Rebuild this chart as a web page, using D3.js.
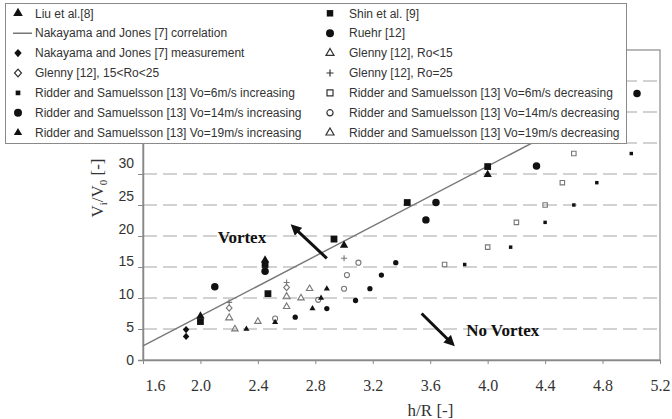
<!DOCTYPE html>
<html>
<head>
<meta charset="utf-8">
<script src="https://cdn.jsdelivr.net/npm/d3@7"></script>
<style>
  body { margin: 0; background: #fff; }
</style>
</head>
<body>
<svg width="672" height="419"></svg>
<script>
// values: h/R on x, Vi/V0 on y

const xTicks = [1.6, 2.0, 2.4, 2.8, 3.2, 3.6, 4.0, 4.4, 4.8, 5.2];
const yTicks = [0, 5, 10, 15, 20, 25, 30];
const yGrid = [5, 10, 15, 20, 25, 30, 35, 40, 45];

const corrLine   = [[1.6, 2.26], [4.5, 37.3]];
const nakMeas    = [[1.9, 4.9], [1.9, 3.8]];
const liu        = [[2.0, 7.1], [2.45, 16.1], [3.0, 18.5], [4.0, 29.9]];
const shin       = [[2.0, 6.2], [2.45, 15.4], [2.47, 10.7], [2.93, 19.5], [3.44, 25.4], [4.0, 31.2]];
const ruehr      = [[2.1, 11.8], [2.45, 14.3], [3.57, 22.6], [3.64, 25.4], [4.34, 31.3], [5.04, 43.0]];
const glennyLow  = [[2.2, 6.8], [2.6, 10.2]];
const glennyMid  = [[2.2, 8.4], [2.6, 11.7]];
const glenny25   = [[2.2, 9.3], [2.6, 12.5], [3.0, 16.4]];
const r6inc      = [[3.84, 15.4], [4.16, 18.2], [4.40, 22.2], [4.60, 25.0], [4.76, 28.6], [5.0, 33.3]];
const r6dec      = [[3.70, 15.4], [4.0, 18.2], [4.2, 22.2], [4.4, 25.0], [4.52, 28.6], [4.6, 33.3]];
const r14inc     = [[2.66, 6.9], [2.88, 8.3], [3.08, 9.6], [3.18, 11.5], [3.26, 13.7], [3.36, 15.7]];
const r14dec     = [[2.52, 6.7], [2.82, 9.7], [3.0, 11.5], [3.02, 13.7], [3.10, 15.7]];
const r19inc     = [[2.32, 5.0], [2.52, 6.1], [2.78, 8.3], [2.84, 10.0], [2.88, 11.5]];
const r19dec     = [[2.24, 5.0], [2.40, 6.2], [2.60, 8.6], [2.70, 10.0], [2.76, 11.5]];

// annotation arrows in data units: [tail, head]
const vortexArrow   = [[2.88, 16.4], [2.65, 21.4]];
const noVortexArrow = [[3.54, 7.5], [3.75, 2.7]];
const vortexLabel   = [2.12, 18.9];
const noVortexLabel = [3.85, 3.9];

const serif = "'Liberation Serif', 'Times New Roman', serif";
const sans = "'Liberation Sans', Arial, sans-serif";

const plot = {left: 143, right: 660, top: 50, bottom: 360};

const svg = d3.select("svg");

const x = d3.scaleLinear().domain([1.6, 5.2]).range([plot.left, plot.right]);
const y = d3.scaleLinear().domain([0, 50]).range([plot.bottom, plot.top]);
// the printed tick labels in the original drift away from the grid lines
const yLab = d3.scaleLinear().domain([0, 30]).range([plot.bottom, 163]);

const plusSym = {
  draw(ctx, size) {
    const r = Math.sqrt(size) / 2;
    ctx.moveTo(-r, 0); ctx.lineTo(r, 0);
    ctx.moveTo(0, -r); ctx.lineTo(0, r);
  }
};
// squarer diamond than d3's
const diamondSym = {
  draw(ctx, size) {
    const r = Math.sqrt(size / 2);
    ctx.moveTo(0, -r); ctx.lineTo(r * 0.9, 0);
    ctx.lineTo(0, r); ctx.lineTo(-r * 0.9, 0);
    ctx.closePath();
  }
};

const black = "#111", hollow = "#777";

const series = {
  liu:       {data: liu,       label: "Liu et al.[8]", type: d3.symbolTriangle, size: 30, leg: 40, fill: black},
  nakMeas:   {data: nakMeas,   label: "Nakayama and Jones [7] measurement", type: diamondSym, size: 26, leg: 34, fill: black},
  glennyMid: {data: glennyMid, label: "Glenny [12], 15<Ro<25", type: diamondSym, size: 20, leg: 30, stroke: hollow},
  r6inc:     {data: r6inc,     label: "Ridder and Samuelsson [13] Vo=6m/s increasing", type: d3.symbolSquare, size: 12, leg: 22, fill: black},
  r14inc:    {data: r14inc,    label: "Ridder and Samuelsson [13] Vo=14m/s increasing", type: d3.symbolCircle, size: 22, leg: 50, fill: black},
  r19inc:    {data: r19inc,    label: "Ridder and Samuelsson [13] Vo=19m/s increasing", type: d3.symbolTriangle, size: 16, leg: 30, fill: black},
  shin:      {data: shin,      label: "Shin et al. [9]", type: d3.symbolSquare, size: 46, leg: 42, fill: black},
  ruehr:     {data: ruehr,     label: "Ruehr [12]", type: d3.symbolCircle, size: 44, leg: 50, fill: black},
  glennyLow: {data: glennyLow, label: "Glenny [12], Ro<15", type: d3.symbolTriangle, size: 22, leg: 28, stroke: hollow},
  glenny25:  {data: glenny25,  label: "Glenny [12], Ro=25", type: plusSym, size: 36, leg: 50, stroke: hollow},
  r6dec:     {data: r6dec,     label: "Ridder and Samuelsson [13] Vo=6m/s decreasing", type: d3.symbolSquare, size: 20, leg: 36, stroke: hollow},
  r14dec:    {data: r14dec,    label: "Ridder and Samuelsson [13] Vo=14m/s decreasing", type: d3.symbolCircle, size: 20, leg: 30, stroke: hollow},
  r19dec:    {data: r19dec,    label: "Ridder and Samuelsson [13] Vo=19m/s decreasing", type: d3.symbolTriangle, size: 18, leg: 28, stroke: hollow}
};

// grid
svg.append("g")
  .selectAll("line")
  .data(yGrid)
  .join("line")
    .attr("x1", plot.left)
    .attr("x2", plot.right)
    .attr("y1", d => y(d))
    .attr("y2", d => y(d))
    .attr("stroke", "#c4c4c4")
    .attr("stroke-width", 1.6)
    .attr("stroke-dasharray", "14,6");

// frame
svg.append("rect")
  .attr("x", plot.left)
  .attr("y", plot.top)
  .attr("width", plot.right - plot.left)
  .attr("height", plot.bottom - plot.top)
  .attr("fill", "none")
  .attr("stroke", "#8a8a8a")
  .attr("stroke-width", 1.2);

// x axis
const xAxis = svg.append("g")
  .attr("transform", `translate(0,${plot.bottom})`)
  .call(d3.axisBottom(x).tickValues(xTicks).tickFormat(d3.format(".1f")).tickSize(4).tickSizeOuter(0));
xAxis.select(".domain").attr("stroke", "#888").attr("stroke-width", 1.5);
xAxis.selectAll(".tick line").attr("stroke", "#888");
xAxis.selectAll("text")
  .attr("y", 20)
  .style("font-family", serif)
  .style("font-size", "16px")
  .attr("fill", "#333");
xAxis.selectAll("text").filter((d, i) => i === 0).attr("dx", 12);

// y axis: ticks on the grid, labels on their own scale
const yAxis = svg.append("g")
  .attr("transform", `translate(${plot.left},0)`)
  .call(d3.axisLeft(y).tickValues([0].concat(yGrid)).tickSize(5).tickFormat(""));
yAxis.select(".domain").attr("stroke", "#888").attr("stroke-width", 1.5);
yAxis.selectAll(".tick line").attr("stroke", "#888");

const yLabels = svg.append("g")
  .attr("transform", `translate(${plot.left},0)`)
  .call(d3.axisLeft(yLab).tickValues(yTicks).tickSize(0).tickPadding(9));
yLabels.select(".domain").remove();
yLabels.selectAll("text")
  .style("font-family", sans)
  .style("font-size", "14px")
  .attr("fill", "#333");

// axis titles
svg.append("text")
  .attr("x", (plot.left + plot.right) / 2 + 29)
  .attr("y", 416)
  .attr("text-anchor", "middle")
  .style("font-family", serif)
  .style("font-size", "17px")
  .attr("fill", "#333")
  .text("h/R [-]");

const yTitle = svg.append("text")
  .attr("transform", "translate(103,188) rotate(-90)")
  .attr("text-anchor", "middle")
  .style("font-family", serif)
  .style("font-size", "17px")
  .attr("fill", "#333");
yTitle.append("tspan").text("V");
yTitle.append("tspan").attr("font-size", "11px").attr("dy", 4).text("i");
yTitle.append("tspan").attr("dy", -4).text("/V");
yTitle.append("tspan").attr("font-size", "11px").attr("dy", 4).text("0");
yTitle.append("tspan").attr("dy", -4).text(" [-]");

// correlation line
svg.append("path")
  .datum(corrLine)
  .attr("d", d3.line().x(d => x(d[0])).y(d => y(d[1])))
  .attr("fill", "none")
  .attr("stroke", "#777")
  .attr("stroke-width", 1.4);

// markers
const order = ["glennyLow", "glennyMid", "glenny25", "r19dec", "r14dec", "r6dec", "r6inc",
               "r19inc", "r14inc", "nakMeas", "ruehr", "shin", "liu"];
order.forEach(k => {
  const s = series[k];
  svg.append("g")
    .selectAll("path")
    .data(s.data)
    .join("path")
      .attr("transform", d => `translate(${x(d[0])},${y(d[1])})`)
      .attr("d", d3.symbol().type(s.type).size(s.size))
      .attr("fill", s.fill || "none")
      .attr("stroke", s.stroke || "none")
      .attr("stroke-width", 1.1);
});

// arrows and region labels
svg.append("defs").append("marker")
    .attr("id", "head")
    .attr("viewBox", "0 0 10 10")
    .attr("refX", 6)
    .attr("refY", 5)
    .attr("markerWidth", 3.6)
    .attr("markerHeight", 3.6)
    .attr("orient", "auto")
  .append("path")
    .attr("d", "M0,0L10,5L0,10z")
    .attr("fill", "#111");

[vortexArrow, noVortexArrow].forEach(a => {
  svg.append("line")
    .attr("x1", x(a[0][0])).attr("y1", y(a[0][1]))
    .attr("x2", x(a[1][0])).attr("y2", y(a[1][1]))
    .attr("stroke", "#111")
    .attr("stroke-width", 3)
    .attr("marker-end", "url(#head)");
});

svg.append("text")
  .attr("x", x(vortexLabel[0]))
  .attr("y", y(vortexLabel[1]))
  .style("font-family", serif)
  .style("font-size", "17px")
  .style("font-weight", "bold")
  .attr("fill", "#111")
  .text("Vortex");

svg.append("text")
  .attr("x", x(noVortexLabel[0]))
  .attr("y", y(noVortexLabel[1]))
  .style("font-family", serif)
  .style("font-size", "17px")
  .style("font-weight", "bold")
  .attr("fill", "#111")
  .text("No Vortex");

// legend box over the top of the plot
const legend = svg.append("g");
legend.append("rect")
  .attr("x", 5.5).attr("y", 3.5)
  .attr("width", 621).attr("height", 140)
  .attr("fill", "#fff")
  .attr("stroke", "#8a8a8a");

const colA = ["liu", "corr", "nakMeas", "glennyMid", "r6inc", "r14inc", "r19inc"];
const colB = ["shin", "ruehr", "glennyLow", "glenny25", "r6dec", "r14dec", "r19dec"];
const rowY = i => 13.3 + i * 19.9;

[[colA, 18, 35], [colB, 330, 349]].forEach(([keys, sx, tx]) => {
  keys.forEach((k, i) => {
    const g = legend.append("g").attr("transform", `translate(0,${rowY(i)})`);
    let label;
    if (k === "corr") {
      g.append("line")
        .attr("x1", 13).attr("x2", 32)
        .attr("stroke", "#555").attr("stroke-width", 1.2);
      label = "Nakayama and Jones [7] correlation";
    } else {
      const s = series[k];
      g.append("path")
        .attr("transform", `translate(${sx},0)`)
        .attr("d", d3.symbol().type(s.type).size(s.leg))
        .attr("fill", s.fill || "none")
        .attr("stroke", s.stroke ? "#333" : "none")
        .attr("stroke-width", 1.2);
      label = s.label;
    }
    g.append("text")
      .attr("x", tx)
      .attr("dy", "0.35em")
      .style("font-family", sans)
      .style("font-size", "12px")
      .attr("fill", "#333")
      .text(label);
  });
});
</script>
</body>
</html>
